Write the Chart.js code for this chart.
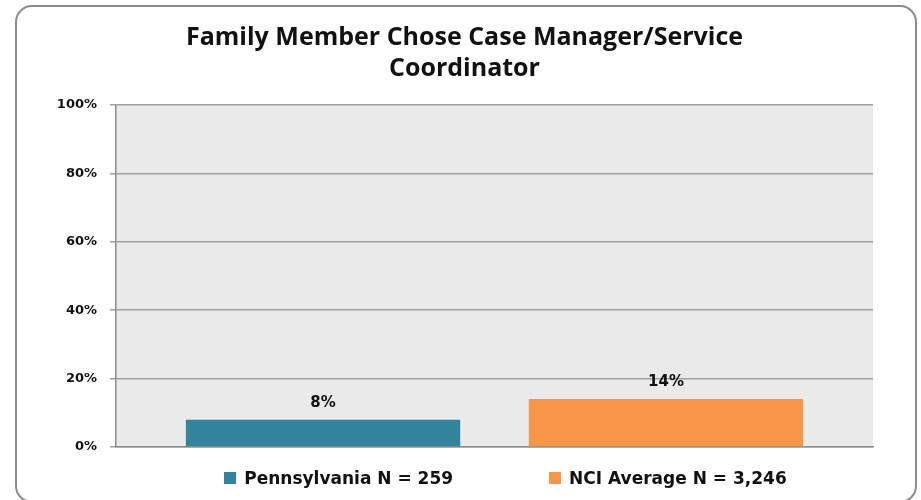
<!DOCTYPE html>
<html>
<head>
<meta charset="utf-8">
<script src="https://cdn.jsdelivr.net/npm/chart.js@4/dist/chart.umd.min.js"></script>
<style>
    body { margin: 0; background: #fff; }
    #wrap { position: relative; width: 921px; height: 500px; overflow: hidden; }
    #frame {
        position: absolute; left: 15px; top: 5px; width: 898px; height: 494px;
        border: 2px solid #8c8c8c; border-radius: 17px; pointer-events: none;
    }
    #legend {
        position: absolute; left: 127px; top: 468px; width: 757px;
        display: flex; justify-content: center; gap: 96px;
        font: bold 17px "DejaVu Sans", Verdana, sans-serif; line-height: 20px; color: #111;
    }
    .item { display: flex; align-items: center; }
    .swatch { width: 12px; height: 12px; margin-right: 8px; }
</style>
</head>
<body>
<div id="wrap">
    <canvas id="chart" width="921" height="500"></canvas>
    <div id="frame"></div>
    <div id="legend"></div>
</div>
<script>
// ================= DATA =================
const titleLines = ["Family Member Chose Case Manager/Service", "Coordinator"];
const seriesNames = ["Pennsylvania N = 259", "NCI Average N = 3,246"];
const seriesValues = [8, 14];
const seriesColors = ["#31849B", "#F79646"];
const yTicks = [0, 20, 40, 60, 80, 100];

// gray plot background
const plotBackground = {
    id: "plotBackground",
    beforeDraw(chart) {
        const a = chart.chartArea;
        const ctx = chart.ctx;
        ctx.save();
        ctx.fillStyle = "#eaeaea";
        ctx.fillRect(a.left, a.top, a.right - a.left, a.bottom - a.top);
        ctx.restore();
    }
};

// value labels above each bar
const valueLabels = {
    id: "valueLabels",
    afterDatasetsDraw(chart) {
        const ctx = chart.ctx;
        ctx.save();
        ctx.font = "bold 15px 'DejaVu Sans', Verdana, sans-serif";
        ctx.fillStyle = "#111";
        ctx.textAlign = "center";
        ctx.textBaseline = "middle";
        chart.data.datasets.forEach((ds, i) => {
            const bar = chart.getDatasetMeta(i).data[0];
            ctx.fillText(ds.data[0] + "%", bar.x, bar.y - 17);
        });
        ctx.restore();
    }
};

const ctx = document.getElementById("chart").getContext("2d");
const chart = new Chart(ctx, {
    type: "bar",
    data: {
        labels: [""],
        datasets: seriesNames.map((name, i) => ({
            label: name,
            data: [seriesValues[i]],
            backgroundColor: seriesColors[i],
            categoryPercentage: 0.906,
            barPercentage: 0.8
        }))
    },
    options: {
        responsive: false,
        animation: false,
        layout: { padding: { left: 56, right: 48, top: 0, bottom: 53 } },
        plugins: {
            legend: { display: false },
            tooltip: { enabled: false },
            title: {
                display: true,
                text: titleLines,
                color: "#111",
                font: { family: "'Open Sans', Lato, sans-serif", size: 25, weight: "bold", lineHeight: 1.25 },
                padding: { top: 22, bottom: 20.5 }
            }
        },
        scales: {
            x: {
                grid: { display: false, drawTicks: false },
                ticks: { display: false },
                border: { display: true, color: "#8c8c8c", width: 1.5 },
                afterFit(scale) { scale.height = 0; }
            },
            y: {
                min: 0,
                max: 100,
                afterBuildTicks(scale) { scale.ticks = yTicks.map(v => ({ value: v })); },
                afterFit(scale) { scale.width = 60; },
                ticks: {
                    padding: 13,
                    color: "#111",
                    font: { family: "'DejaVu Sans', Verdana, sans-serif", size: 13, weight: "bold" },
                    callback: v => v + "%"
                },
                grid: { color: "#a0a0a0", lineWidth: 1.5, tickLength: 6 },
                border: { color: "#8c8c8c", width: 1.5 }
            }
        }
    },
    plugins: [plotBackground, valueLabels]
});

// legend built from the datasets
const legend = document.getElementById("legend");
chart.data.datasets.forEach(ds => {
    const item = document.createElement("div");
    item.className = "item";
    const sw = document.createElement("span");
    sw.className = "swatch";
    sw.style.background = ds.backgroundColor;
    const label = document.createElement("span");
    label.innerText = ds.label;
    item.appendChild(sw);
    item.appendChild(label);
    legend.appendChild(item);
});
</script>
</body>
</html>
